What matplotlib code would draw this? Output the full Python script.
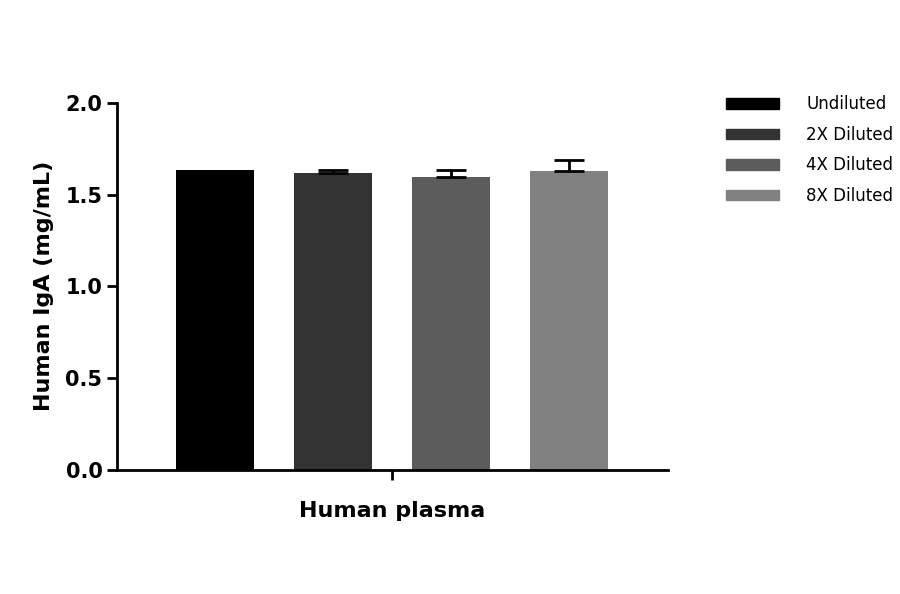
import matplotlib
matplotlib.use("Agg")
import matplotlib.pyplot as plt
from matplotlib.patches import Patch

groups = ["Undiluted", "2X Diluted", "4X Diluted", "8X Diluted"]
values = [1.635, 1.62, 1.598, 1.628]
errors = [0.0, 0.015, 0.035, 0.062]
colors = ["#000000", "#333333", "#5c5c5c", "#818181"]
xlabel = "Human plasma"
ylabel = "Human IgA (mg/mL)"
yticks = [0.0, 0.5, 1.0, 1.5, 2.0]

fig = plt.figure(figsize=(9, 5.94), dpi=100)
ax = fig.add_axes([0.13, 0.209, 0.612, 0.618])
x = list(range(len(groups)))
for i in x:
    ax.bar(i, values[i], width=0.66, color=colors[i], zorder=2)
    if errors[i] > 0:
        ax.errorbar(i, values[i], yerr=[[0], [errors[i]]], fmt="none",
                    ecolor="black", elinewidth=2, capsize=11, capthick=2, zorder=3)
ax.set_xlim(-0.83, 3.84)
ax.set_ylim(0, 2.0)
ax.set_yticks(yticks)
ax.set_yticklabels([f"{t:.1f}" for t in yticks], fontsize=15, fontweight="bold")
ax.set_xticks([1.5])
ax.set_xticklabels([""])
ax.set_xlabel(xlabel, fontsize=16, fontweight="bold", labelpad=12)
ax.set_ylabel(ylabel, fontsize=16, fontweight="bold", labelpad=8)
for s in ["top", "right"]:
    ax.spines[s].set_visible(False)
for s in ["left", "bottom"]:
    ax.spines[s].set_linewidth(2)
ax.tick_params(width=2, length=7)

handles = [Patch(facecolor=c, edgecolor=c) for c in colors]
fig.legend(handles, groups, loc="upper left", bbox_to_anchor=(0.79, 0.865),
           frameon=False, fontsize=12, handlelength=3.2, handleheight=0.6,
           labelspacing=0.75, handletextpad=1.6)
fig.savefig("out.png", dpi=100)
